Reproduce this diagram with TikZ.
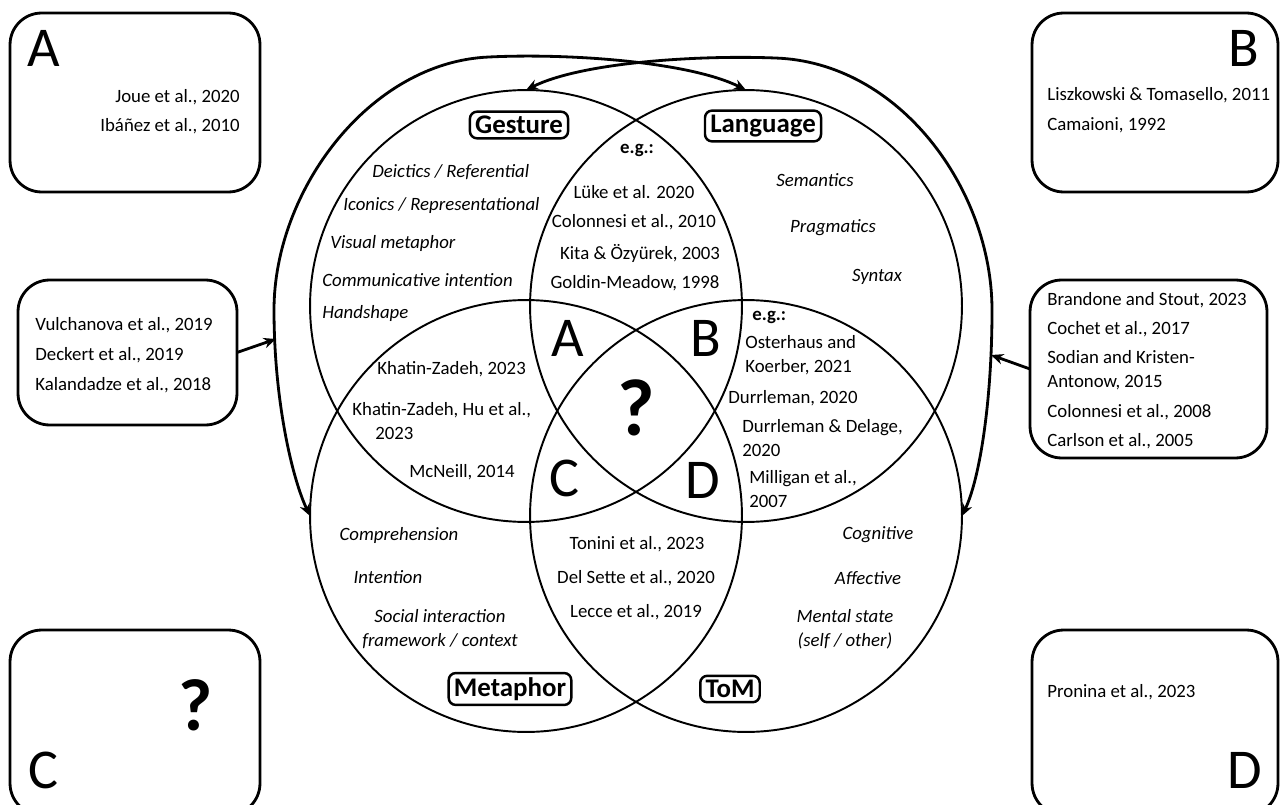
\documentclass[tikz,border=0pt]{standalone}
\usepackage{fontspec}
\setmainfont{Carlito}
\usetikzlibrary{arrows.meta}

\begin{document}
\begin{tikzpicture}[x=0.02cm, y=-0.02cm,
    venn/.style={circle, draw, line width=1.1pt, minimum size=8.64cm, inner sep=0pt, outer sep=0pt},
    refbox/.style={draw, line width=1.6pt, rounded corners=18pt, inner sep=0pt, outer sep=0pt},
    catlabel/.style={draw, line width=1.4pt, rounded corners=4pt, font=\fontsize{15.3}{18}\selectfont\bfseries, inner xsep=3pt, inner ysep=2.5pt},
    ref/.style={font=\fontsize{10.7}{13.6}\selectfont, inner sep=0pt, align=left},
    topic/.style={font=\fontsize{10.7}{13.6}\selectfont\itshape, inner sep=0pt, align=center},
    eg/.style={font=\fontsize{10.7}{13.6}\selectfont\bfseries, inner sep=0pt},
    bigletter/.style={font=\fontsize{32}{36}\selectfont, inner sep=0pt},
    query/.style={font=\fontsize{46}{50}\selectfont\bfseries, inner sep=0pt},
    link/.style={line width=1.6pt, {Stealth[length=7pt,width=6pt]}-{Stealth[length=7pt,width=6pt]}},
    feed/.style={line width=1.6pt, -{Stealth[length=7pt,width=6pt]}}]
  \useasboundingbox (0,0) rectangle (1280,804);

  % the four circles
  \node[venn] (gesture)  at (526,306) {};
  \node[venn] (language) at (746,306) {};
  \node[venn] (metaphor) at (526,516) {};
  \node[venn] (tom)      at (746,516) {};

  % crossing links over the top
  \draw[link] (metaphor.west) .. controls (292,478) and (274,400) .. (274,310)
    .. controls (274,190) and (370,62) .. (489,57)
    .. controls (570,53) and (690,62) .. (language.north);
  \draw[link] (tom.east) .. controls (980,478) and (992,400) .. (992,310)
    .. controls (992,190) and (900,62) .. (775,58)
    .. controls (700,55) and (582,62) .. (gesture.north);
  \coordinate (lhit) at (276,339);
  \coordinate (rhit) at (991,355);

  % reference boxes
  \node[refbox, minimum width=5cm, minimum height=3.58cm] (boxa) at (135,102.5) {};
  \node[refbox, minimum width=4.92cm, minimum height=3.58cm] (boxb) at (1155,102.5) {};
  \node[refbox, minimum width=4.38cm, minimum height=2.9cm] (boxl) at (127.5,352.5) {};
  \node[refbox, minimum width=4.74cm, minimum height=3.56cm] (boxr) at (1148.5,369) {};
  \node[refbox, minimum width=5cm, minimum height=3.7cm] (boxc) at (135,722.5) {};
  \node[refbox, minimum width=4.92cm, minimum height=3.7cm] (boxd) at (1155,722.5) {};
  \draw[feed] (boxl.east) -- (lhit);
  \draw[feed] (boxr.west) -- (rhit);

  % box A
  \node[bigletter] (la) at (44,48) {A};
  \node[ref, anchor=east] (joue) at (240,97) {Joue et al., 2020};
  \node[ref, anchor=east] (ibanez) at (240,126) {Ibáñez et al., 2010};
  % box B
  \node[bigletter] (lb) at (1244,48) {B};
  \node[ref, anchor=west] (lisz) at (1047,95) {Liszkowski \& Tomasello, 2011};
  \node[ref, anchor=west] (cama) at (1047,125) {Camaioni, 1992};
  % left box
  \node[ref, anchor=west] (vulch) at (35,325) {Vulchanova et al., 2019};
  \node[ref, anchor=west] (deck) at (35,355) {Deckert et al., 2019};
  \node[ref, anchor=west] (kalan) at (35,385) {Kalandadze et al., 2018};
  % right box
  \node[ref, anchor=west] (brand) at (1047,300) {Brandone and Stout, 2023};
  \node[ref, anchor=west] (cochet) at (1047,329) {Cochet et al., 2017};
  \node[ref, anchor=west] (sodian) at (1047,370) {Sodian and Kristen-\\Antonow, 2015};
  \node[ref, anchor=west] (colo08) at (1047,412) {Colonnesi et al., 2008};
  \node[ref, anchor=west] (carl) at (1047,441) {Carlson et al., 2005};
  % box C
  \node[query, font=\fontsize{42}{46}\selectfont\bfseries] (qc) at (196,705) {?};
  \node[bigletter] (lc) at (43,770) {C};
  % box D
  \node[ref, anchor=west] (pron) at (1047,692) {Pronina et al., 2023};
  \node[bigletter] (ld) at (1245,770) {D};

  % circle titles
  \node[catlabel] (tgest) at (519,125) {Gesture};
  \node[catlabel] (tlang) at (763,126) {Language};
  \node[catlabel] (tmeta) at (510,689) {Metaphor};
  \node[catlabel] (ttom) at (730,689) {ToM};

  % gesture
  \node[topic, anchor=west] (deic) at (372,172) {Deictics / Referential};
  \node[topic, anchor=west] (icon) at (343,205) {Iconics / Representational};
  \node[topic, anchor=west] (vmet) at (330,243) {Visual metaphor};
  \node[topic, anchor=west] (comm) at (322,280) {Communicative intention};
  \node[topic, anchor=west] (hand) at (322,313) {Handshape};
  % gesture and language
  \node[eg] (eg1) at (637,150) {e.g.:};
  \node[ref] (luke) at (634,192) {Lüke et al. 2020};
  \node[ref] (colo10) at (634,222) {Colonnesi et al., 2010};
  \node[ref] (kita) at (640,253) {Kita \& Özyürek, 2003};
  \node[ref] (goldin) at (635,283) {Goldin-Meadow, 1998};
  % language
  \node[topic] (sem) at (815,180) {Semantics};
  \node[topic] (prag) at (833,228) {Pragmatics};
  \node[topic] (syn) at (877,277) {Syntax};
  % language and tom
  \node[eg, anchor=west] (eg2) at (752,317) {e.g.:};
  \node[ref, anchor=west] (oster) at (745,355) {Osterhaus and\\Koerber, 2021};
  \node[ref, anchor=west] (durr) at (728,398) {Durrleman, 2020};
  \node[ref, anchor=west] (durrd) at (742,438) {Durrleman \& Delage,\\2020};
  \node[ref, anchor=west] (mill) at (749,489) {Milligan et al.,\\2007};
  % gesture and metaphor
  \node[ref, anchor=west] (khat) at (377,369) {Khatin-Zadeh, 2023};
  \node[ref, anchor=west] (khathu) at (352,410) {Khatin-Zadeh, Hu et al.,};
  \node[ref, anchor=west] (khatyr) at (375,433) {2023};
  \node[ref] (mcn) at (462,472) {McNeill, 2014};
  % metaphor
  \node[topic] (compr) at (399,535) {Comprehension};
  \node[topic] (inten) at (388,577) {Intention};
  \node[topic] (social) at (440,629) {Social interaction\\framework / context};
  % metaphor and tom
  \node[ref] (tonini) at (637,544) {Tonini et al., 2023};
  \node[ref] (delsette) at (636,578) {Del Sette et al., 2020};
  \node[ref] (lecce) at (636,612) {Lecce et al., 2019};
  % tom
  \node[topic] (cogn) at (878,535) {Cognitive};
  \node[topic] (affe) at (868,578) {Affective};
  \node[topic] (mental) at (845,629) {Mental state\\(self / other)};

  % overlap letters
  \node[bigletter] (oa) at (568,338) {A};
  \node[bigletter] (ob) at (706,338) {B};
  \node[query] (oq) at (636,408) {?};
  \node[bigletter] (oc) at (564,478) {C};
  \node[bigletter] (od) at (703,480) {D};
\end{tikzpicture}
\end{document}
